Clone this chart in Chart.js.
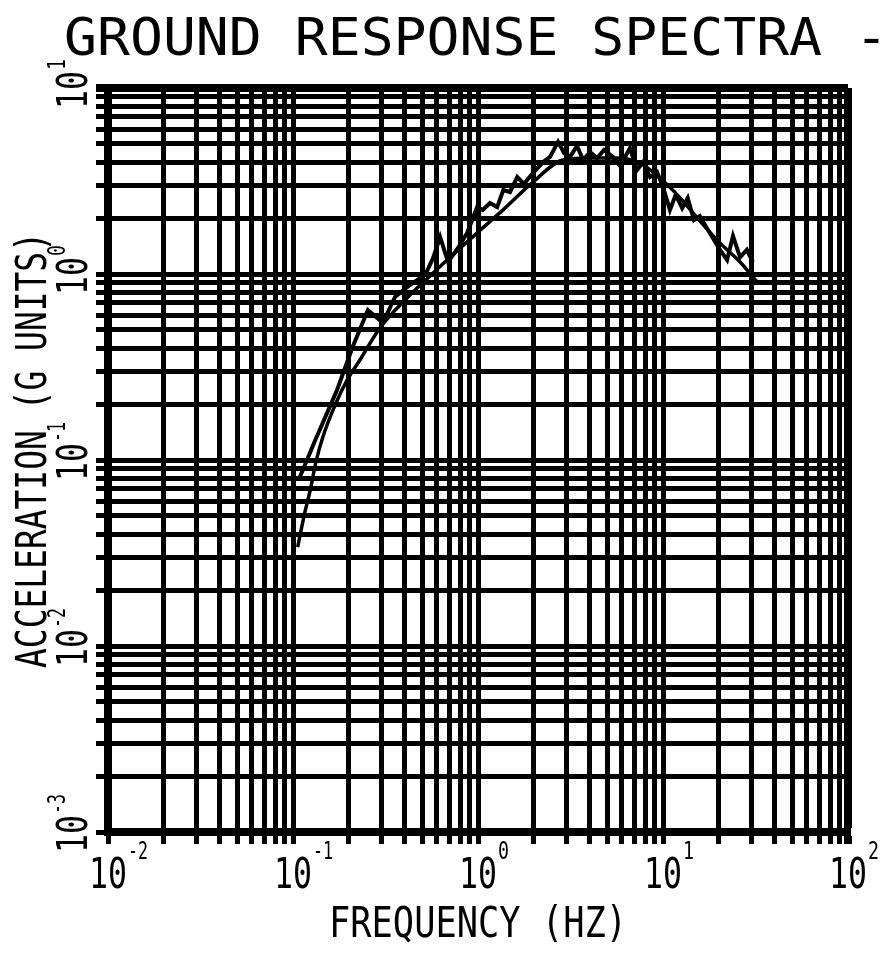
<!DOCTYPE html>
<html>
<head>
<meta charset="utf-8">
<script src="https://cdn.jsdelivr.net/npm/chart.js@4/dist/chart.umd.min.js"></script>
<style>
  html, body { margin: 0; padding: 0; background: #fff; }
</style>
</head>
<body>
<canvas id="spectra" width="892" height="961"></canvas>
<script>
// smooth spectrum
const smoothFreq = [0.106, 0.115, 0.124, 0.133, 0.145, 0.169, 0.196, 0.230, 0.295, 0.413, 0.550, 0.751, 1.00, 1.40, 1.98, 2.88, 4.03, 5.50, 7.51, 9.63, 12.4, 15.8, 20.3, 26.1, 32.6]
const smoothAccel = [0.034, 0.0506, 0.069, 0.0975, 0.133, 0.198, 0.269, 0.345, 0.513, 0.743, 0.976, 1.30, 1.68, 2.26, 3.12, 4.10, 4.20, 4.20, 3.95, 3.28, 2.56, 1.93, 1.47, 1.16, 0.895]

// computed (jagged) spectrum
const calcFreq = [0.109, 0.132, 0.173, 0.209, 0.254, 0.306, 0.356, 0.428, 0.518, 0.572, 0.624, 0.689, 0.780, 0.873, 0.989, 1.06, 1.16, 1.27, 1.37, 1.49, 1.63, 1.77, 1.98, 2.25, 2.45, 2.71, 2.92, 3.14, 3.43, 3.70, 4.03, 4.40, 4.80, 5.37, 5.86, 6.63, 7.23, 7.80, 8.51, 9.29, 10.0, 10.9, 11.7, 12.7, 13.6, 14.7, 15.8, 17.9, 20.3, 22.2, 23.9, 26.1, 28.4, 30.6]
const calcAccel = [0.081, 0.128, 0.238, 0.40, 0.64, 0.546, 0.752, 0.873, 0.988, 1.22, 1.58, 1.16, 1.38, 1.66, 2.29, 2.21, 2.41, 2.29, 2.83, 2.76, 3.32, 3.05, 3.49, 4.00, 4.26, 5.13, 4.47, 4.26, 4.88, 4.10, 4.53, 4.20, 4.64, 4.26, 3.81, 4.76, 3.62, 4.00, 3.32, 3.53, 2.94, 2.21, 2.66, 2.26, 2.56, 1.95, 2.05, 1.66, 1.35, 1.19, 1.60, 1.23, 1.35, 1.16]

// axes: decade exponents and the in-decade steps
const xExponents = [-2, -1, 0, 1, 2]
const yExponents = [-3, -2, -1, 0, 1]
const minorSteps = [1, 2, 3, 4, 5, 6, 7, 8, 9]

const titleText = 'GROUND RESPONSE SPECTRA -'
const xTitle = 'FREQUENCY (HZ)'
const yTitle = 'ACCELERATION (G UNITS)'

const FONT = '"DejaVu Sans Mono", "Liberation Mono", monospace'

function decadeTicks(exps) {
    const vals = []
    for (let i = 0; i < exps.length - 1; i++) {
        for (const m of minorSteps) vals.push(+(m * Math.pow(10, exps[i])).toPrecision(3))
    }
    vals.push(Math.pow(10, exps[exps.length - 1]))
    return vals
}
const xTickValues = decadeTicks(xExponents)
const yTickValues = decadeTicks(yExponents)

// draw text squeezed to a given width (plotter lettering is narrow)
function squeezed(ctx, text, size, width, align) {
    ctx.font = size + 'px ' + FONT
    const w = ctx.measureText(text).width
    const sx = width ? width / w : 1
    ctx.save()
    ctx.scale(sx, 1)
    ctx.textAlign = align
    ctx.fillText(text, 0, 0)
    ctx.restore()
    return w * sx
}

const plotterText = {
    id: 'plotterText',
    afterDraw(chart) {
        const { ctx, scales: { x, y } } = chart
        ctx.save()
        ctx.fillStyle = '#000'
        ctx.textBaseline = 'alphabetic'

        // title
        ctx.save()
        ctx.translate(64, 55)
        squeezed(ctx, titleText, 52, 824, 'left')
        ctx.restore()

        // x tick labels
        for (const e of xExponents) {
            const px = x.getPixelForValue(Math.pow(10, e))
            ctx.save()
            ctx.translate(px, 888)
            squeezed(ctx, '10', 42, 38, 'center')
            ctx.restore()
            ctx.save()
            ctx.translate(px + 20, 859)
            squeezed(ctx, String(e), 24, e < 0 ? 20 : 11, 'left')
            ctx.restore()
        }

        // y tick labels, rotated
        for (const e of yExponents) {
            const py = y.getPixelForValue(Math.pow(10, e))
            ctx.save()
            ctx.translate(87, py + 2)
            ctx.rotate(-Math.PI / 2)
            squeezed(ctx, '10', 42, 38, 'center')
            ctx.translate(20, -22)
            squeezed(ctx, String(e), 24, e < 0 ? 20 : 11, 'left')
            ctx.restore()
        }

        // axis titles
        ctx.save()
        ctx.translate((x.left + x.right) / 2, 937)
        squeezed(ctx, xTitle, 42, 298, 'center')
        ctx.restore()

        ctx.save()
        ctx.translate(46, 450)
        ctx.rotate(-Math.PI / 2)
        squeezed(ctx, yTitle, 42, 436, 'center')
        ctx.restore()

        ctx.restore()
    }
}

function gridFor(maxValue) {
    return {
        color: '#000',
        lineWidth: (c) => (c.tick && c.tick.value === maxValue) ? 8 : 5,
        drawTicks: true,
        tickLength: 12
    }
}

const ctx = document.getElementById('spectra').getContext('2d')
const spectraChart = new Chart(ctx, {
    type: 'line',
    data: {
        datasets: [{
            label: 'Computed',
            data: calcFreq.map((f, i) => ({ x: f, y: calcAccel[i] })),
            borderColor: '#000',
            borderWidth: 4,
            pointRadius: 0,
            tension: 0,
            fill: false
        }, {
            label: 'Smoothed',
            data: smoothFreq.map((f, i) => ({ x: f, y: smoothAccel[i] })),
            borderColor: '#000',
            borderWidth: 3.5,
            pointRadius: 0,
            cubicInterpolationMode: 'monotone',
            fill: false
        }]
    },
    options: {
        responsive: false,
        animation: false,
        devicePixelRatio: 1,
        layout: { padding: { left: 96, right: 44, top: 88, bottom: 117 } },
        plugins: {
            legend: { display: false },
            tooltip: { enabled: false },
            title: { display: false }
        },
        scales: {
            x: {
                type: 'logarithmic',
                min: 0.01,
                max: 100,
                afterBuildTicks: (scale) => { scale.ticks = xTickValues.map(v => ({ value: v })) },
                ticks: { display: false },
                grid: gridFor(100),
                border: { display: true, color: '#000', width: 8 }
            },
            y: {
                type: 'logarithmic',
                min: 0.001,
                max: 10,
                afterBuildTicks: (scale) => { scale.ticks = yTickValues.map(v => ({ value: v })) },
                ticks: { display: false },
                grid: gridFor(10),
                border: { display: true, color: '#000', width: 8 }
            }
        }
    },
    plugins: [plotterText]
})
</script>
</body>
</html>
